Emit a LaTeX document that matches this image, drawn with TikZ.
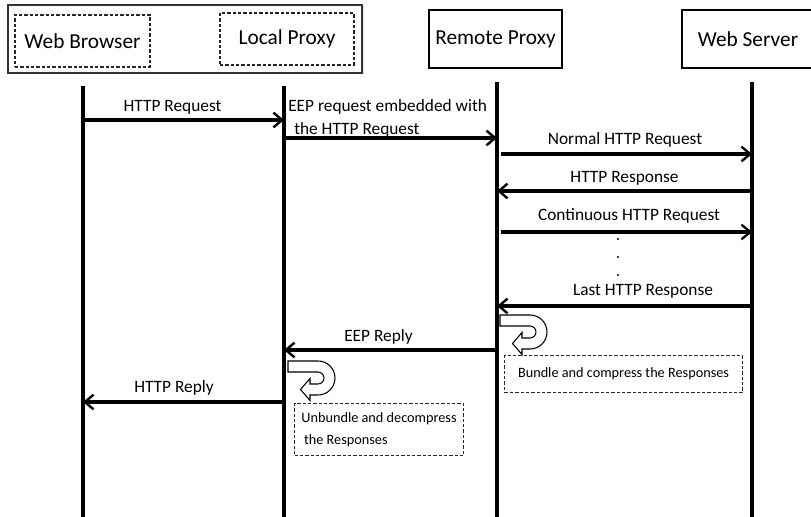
\documentclass[tikz,border=0pt]{standalone}
\usepackage{fontspec}
\setmainfont{Carlito}
\usetikzlibrary{arrows.meta}
\begin{document}
\begin{tikzpicture}[x=0.75pt,y=-0.75pt,
  hdr/.style={draw, line width=0.8pt, inner sep=0pt, fill=white, font=\fontsize{16}{19}\selectfont},
  dbox/.style={draw=black!85, line width=0.8pt, dash pattern=on 2.5pt off 1.5pt, inner sep=0pt, fill=white},
  life/.style={line width=2.5pt},
  msg/.style={line width=2.5pt, -{Straight Barb[length=6.5pt,width=11pt,line width=1.8pt]}},
  lbl/.style={font=\fontsize{13}{16}\selectfont, inner sep=0pt, anchor=base},
  notebox/.style={dbox, font=\fontsize{10.7}{16.5}\selectfont, align=left, anchor=north west},
  uturn/.pic={\draw[line width=0.8pt, fill=white] (0,0) -- (30,0) arc[start angle=-90,end angle=90,radius=17]
      -- (22,34) -- (22,39.5) -- (12.5,28.5) -- (22,17.5) -- (22,23) -- (30,23)
      arc[start angle=90,end angle=-90,radius=6] -- (0,11) -- cycle;}
]
\clip (0,0) rectangle (811,517);
\useasboundingbox (0,0) rectangle (811,517);

% header boxes
\fill[black!12] (9.5,6.5) rectangle (363.5,74.5);
\node[hdr, draw=black!80, minimum width=354*0.75pt, minimum height=68*0.75pt] (client) at (185,39) {};
\node[dbox, font=\fontsize{16}{19}\selectfont, minimum width=135*0.75pt, minimum height=52*0.75pt] (wb) at (82.5,41) {Web Browser};
\node[dbox, font=\fontsize{16}{19}\selectfont, minimum width=134*0.75pt, minimum height=52*0.75pt] (lp) at (287,39) {Local Proxy};
\node[hdr, minimum width=133*0.75pt, minimum height=58*0.75pt] (rp) at (495.5,39) {Remote Proxy};
\node[hdr, minimum width=140*0.75pt, minimum height=58*0.75pt] (ws) at (752,39) {\hspace*{-6pt}Web Server};

% lifelines
\coordinate (wbT) at (83,86);  \coordinate (wbB) at (83,517);
\coordinate (lpT) at (284,86); \coordinate (lpB) at (284,517);
\coordinate (rpT) at (497,82); \coordinate (rpB) at (497,517);
\coordinate (wsT) at (752,82); \coordinate (wsB) at (752,517);
\draw[life] (wbT) -- (wbB);
\draw[life] (lpT) -- (lpB);
\draw[life] (rpT) -- (rpB);
\draw[life] (wsT) -- (wsB);

% messages
\coordinate (m1a) at (83,120);  \coordinate (m1b) at (284,120);
\draw[msg] (m1a) -- (m1b);
\node[lbl] (l1) at (172.5,112) {HTTP Request};

\coordinate (m2a) at (284,138); \coordinate (m2b) at (497,138);
\draw[msg] (m2a) -- (m2b);
\node[lbl, anchor=base west] (l2a) at (288,112) {EEP request embedded with};
\node[lbl, anchor=base west] (l2b) at (294,134) {the HTTP Request};

\coordinate (m3a) at (501,154); \coordinate (m3b) at (752,154);
\draw[msg] (m3a) -- (m3b);
\node[lbl] (l3) at (625,145) {Normal HTTP Request};

\coordinate (m4a) at (752,191); \coordinate (m4b) at (497,191);
\draw[msg] (m4a) -- (m4b);
\node[lbl] (l4) at (624.5,182) {HTTP Response};

\coordinate (m5a) at (501,232); \coordinate (m5b) at (752,232);
\draw[msg] (m5a) -- (m5b);
\node[lbl] (l5) at (629,220) {Continuous HTTP Request};

\fill (618,239) circle[radius=1.1];
\fill (618,257) circle[radius=1.1];
\fill (618,275) circle[radius=1.1];

\coordinate (m6a) at (752,306); \coordinate (m6b) at (497,306);
\draw[msg] (m6a) -- (m6b);
\node[lbl] (l6) at (643,295) {Last HTTP Response};

\coordinate (m7a) at (497,350); \coordinate (m7b) at (284,350);
\draw[msg] (m7a) -- (m7b);
\node[lbl] (l7) at (378.5,341) {EEP Reply};

\coordinate (m8a) at (284,402); \coordinate (m8b) at (83,402);
\draw[msg] (m8a) -- (m8b);
\node[lbl] (l8) at (174,392) {HTTP Reply};

% processing
\pic at (500,315) {uturn};
\node[notebox, minimum width=238*0.75pt, minimum height=37*0.75pt] (bundle) at (504,355) {Bundle and compress the Responses};

\pic at (288,361) {uturn};
\node[notebox, minimum width=169*0.75pt, minimum height=52*0.75pt] (unbundle) at (294,403) {Unbundle and decompress\\\hspace*{2pt}the Responses};
\end{tikzpicture}
\end{document}
